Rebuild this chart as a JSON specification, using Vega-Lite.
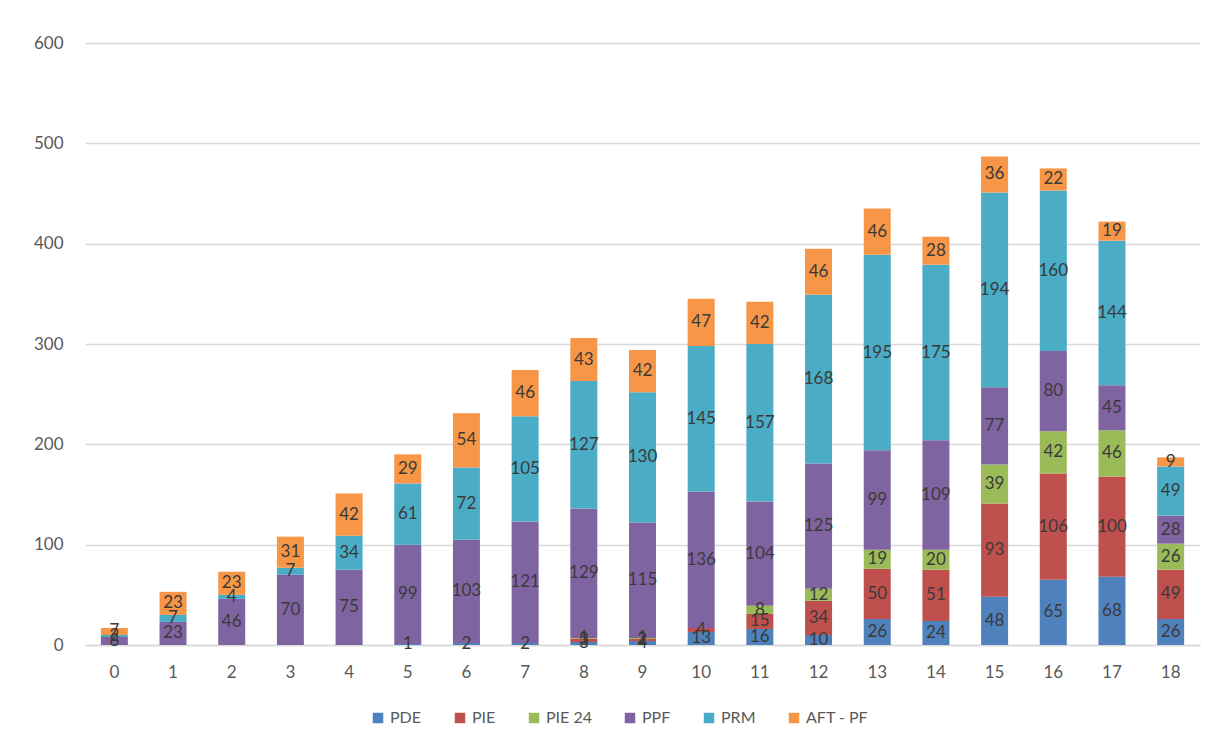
{
  "$schema": "https://vega.github.io/schema/vega-lite/v6.json",
  "autosize": {"type": "none"},
  "width": 1115,
  "height": 602,
  "padding": {"left": 85, "top": 43, "right": 18, "bottom": 108},
  "background": "white",
  "config": {
    "view": {"stroke": null},
    "font": "Lato"
  },
  "data": {
    "values": [
      {"x": 0, "s": "PPF", "k": 4, "v": 8},
      {"x": 0, "s": "PRM", "k": 5, "v": 2},
      {"x": 0, "s": "AFT - PF", "k": 6, "v": 7},
      {"x": 1, "s": "PPF", "k": 4, "v": 23},
      {"x": 1, "s": "PRM", "k": 5, "v": 7},
      {"x": 1, "s": "AFT - PF", "k": 6, "v": 23},
      {"x": 2, "s": "PPF", "k": 4, "v": 46},
      {"x": 2, "s": "PRM", "k": 5, "v": 4},
      {"x": 2, "s": "AFT - PF", "k": 6, "v": 23},
      {"x": 3, "s": "PPF", "k": 4, "v": 70},
      {"x": 3, "s": "PRM", "k": 5, "v": 7},
      {"x": 3, "s": "AFT - PF", "k": 6, "v": 31},
      {"x": 4, "s": "PPF", "k": 4, "v": 75},
      {"x": 4, "s": "PRM", "k": 5, "v": 34},
      {"x": 4, "s": "AFT - PF", "k": 6, "v": 42},
      {"x": 5, "s": "PDE", "k": 1, "v": 1},
      {"x": 5, "s": "PPF", "k": 4, "v": 99},
      {"x": 5, "s": "PRM", "k": 5, "v": 61},
      {"x": 5, "s": "AFT - PF", "k": 6, "v": 29},
      {"x": 6, "s": "PDE", "k": 1, "v": 2},
      {"x": 6, "s": "PPF", "k": 4, "v": 103},
      {"x": 6, "s": "PRM", "k": 5, "v": 72},
      {"x": 6, "s": "AFT - PF", "k": 6, "v": 54},
      {"x": 7, "s": "PDE", "k": 1, "v": 2},
      {"x": 7, "s": "PPF", "k": 4, "v": 121},
      {"x": 7, "s": "PRM", "k": 5, "v": 105},
      {"x": 7, "s": "AFT - PF", "k": 6, "v": 46},
      {"x": 8, "s": "PDE", "k": 1, "v": 3},
      {"x": 8, "s": "PIE", "k": 2, "v": 3},
      {"x": 8, "s": "PIE 24", "k": 3, "v": 1},
      {"x": 8, "s": "PPF", "k": 4, "v": 129},
      {"x": 8, "s": "PRM", "k": 5, "v": 127},
      {"x": 8, "s": "AFT - PF", "k": 6, "v": 43},
      {"x": 9, "s": "PDE", "k": 1, "v": 4},
      {"x": 9, "s": "PIE", "k": 2, "v": 2},
      {"x": 9, "s": "PIE 24", "k": 3, "v": 1},
      {"x": 9, "s": "PPF", "k": 4, "v": 115},
      {"x": 9, "s": "PRM", "k": 5, "v": 130},
      {"x": 9, "s": "AFT - PF", "k": 6, "v": 42},
      {"x": 10, "s": "PDE", "k": 1, "v": 13},
      {"x": 10, "s": "PIE", "k": 2, "v": 4},
      {"x": 10, "s": "PPF", "k": 4, "v": 136},
      {"x": 10, "s": "PRM", "k": 5, "v": 145},
      {"x": 10, "s": "AFT - PF", "k": 6, "v": 47},
      {"x": 11, "s": "PDE", "k": 1, "v": 16},
      {"x": 11, "s": "PIE", "k": 2, "v": 15},
      {"x": 11, "s": "PIE 24", "k": 3, "v": 8},
      {"x": 11, "s": "PPF", "k": 4, "v": 104},
      {"x": 11, "s": "PRM", "k": 5, "v": 157},
      {"x": 11, "s": "AFT - PF", "k": 6, "v": 42},
      {"x": 12, "s": "PDE", "k": 1, "v": 10},
      {"x": 12, "s": "PIE", "k": 2, "v": 34},
      {"x": 12, "s": "PIE 24", "k": 3, "v": 12},
      {"x": 12, "s": "PPF", "k": 4, "v": 125},
      {"x": 12, "s": "PRM", "k": 5, "v": 168},
      {"x": 12, "s": "AFT - PF", "k": 6, "v": 46},
      {"x": 13, "s": "PDE", "k": 1, "v": 26},
      {"x": 13, "s": "PIE", "k": 2, "v": 50},
      {"x": 13, "s": "PIE 24", "k": 3, "v": 19},
      {"x": 13, "s": "PPF", "k": 4, "v": 99},
      {"x": 13, "s": "PRM", "k": 5, "v": 195},
      {"x": 13, "s": "AFT - PF", "k": 6, "v": 46},
      {"x": 14, "s": "PDE", "k": 1, "v": 24},
      {"x": 14, "s": "PIE", "k": 2, "v": 51},
      {"x": 14, "s": "PIE 24", "k": 3, "v": 20},
      {"x": 14, "s": "PPF", "k": 4, "v": 109},
      {"x": 14, "s": "PRM", "k": 5, "v": 175},
      {"x": 14, "s": "AFT - PF", "k": 6, "v": 28},
      {"x": 15, "s": "PDE", "k": 1, "v": 48},
      {"x": 15, "s": "PIE", "k": 2, "v": 93},
      {"x": 15, "s": "PIE 24", "k": 3, "v": 39},
      {"x": 15, "s": "PPF", "k": 4, "v": 77},
      {"x": 15, "s": "PRM", "k": 5, "v": 194},
      {"x": 15, "s": "AFT - PF", "k": 6, "v": 36},
      {"x": 16, "s": "PDE", "k": 1, "v": 65},
      {"x": 16, "s": "PIE", "k": 2, "v": 106},
      {"x": 16, "s": "PIE 24", "k": 3, "v": 42},
      {"x": 16, "s": "PPF", "k": 4, "v": 80},
      {"x": 16, "s": "PRM", "k": 5, "v": 160},
      {"x": 16, "s": "AFT - PF", "k": 6, "v": 22},
      {"x": 17, "s": "PDE", "k": 1, "v": 68},
      {"x": 17, "s": "PIE", "k": 2, "v": 100},
      {"x": 17, "s": "PIE 24", "k": 3, "v": 46},
      {"x": 17, "s": "PPF", "k": 4, "v": 45},
      {"x": 17, "s": "PRM", "k": 5, "v": 144},
      {"x": 17, "s": "AFT - PF", "k": 6, "v": 19},
      {"x": 18, "s": "PDE", "k": 1, "v": 26},
      {"x": 18, "s": "PIE", "k": 2, "v": 49},
      {"x": 18, "s": "PIE 24", "k": 3, "v": 26},
      {"x": 18, "s": "PPF", "k": 4, "v": 28},
      {"x": 18, "s": "PRM", "k": 5, "v": 49},
      {"x": 18, "s": "AFT - PF", "k": 6, "v": 9}
    ]
  },
  "transform": [
    {"stack": "v", "groupby": ["x"], "sort": [{"field": "k", "order": "ascending"}], "as": ["v0", "v1"]}
  ],
  "layer": [
    {
      "mark": {"type": "bar"},
      "encoding": {
        "x": {
          "field": "x", "type": "ordinal",
          "scale": {"paddingInner": 0.54, "paddingOuter": 0.27},
          "axis": {
            "title": null, "labelAngle": 0, "ticks": false,
            "domain": true, "domainColor": "#D9D9D9", "domainWidth": 1.5,
            "labelFontSize": 17, "labelColor": "#595959", "labelPadding": 19
          }
        },
        "y": {
          "field": "v0", "type": "quantitative",
          "scale": {"domain": [0, 600], "nice": false},
          "axis": {
            "title": null, "values": [0, 100, 200, 300, 400, 500, 600],
            "ticks": false, "domain": false,
            "grid": true, "gridColor": "#D9D9D9", "gridWidth": 1.5,
            "labelFontSize": 17, "labelColor": "#595959", "labelPadding": 22
          }
        },
        "y2": {"field": "v1"},
        "color": {
          "field": "s", "type": "nominal",
          "scale": {
            "domain": ["PDE", "PIE", "PIE 24", "PPF", "PRM", "AFT - PF"],
            "range": ["#4F81BD", "#C0504D", "#9BBB59", "#8064A2", "#4BACC6", "#F79646"]
          },
          "legend": {
            "title": null, "orient": "none", "direction": "horizontal",
            "legendX": 285, "legendY": 667,
            "symbolType": "square", "symbolSize": 110, "symbolStrokeWidth": 0,
            "labelFontSize": 16, "labelColor": "#595959", "labelOffset": 4,
            "columnPadding": 30
          }
        }
      }
    },
    {
      "transform": [
        {"fold": ["v0", "v1"], "as": ["edge", "pos"]},
        {"aggregate": [{"op": "mean", "field": "pos", "as": "mid"}], "groupby": ["x", "s", "k", "v"]}
      ],
      "mark": {"type": "text", "fontSize": 17, "color": "#3A3A3A", "baseline": "middle", "align": "center"},
      "encoding": {
        "x": {"field": "x", "type": "ordinal"},
        "y": {"field": "mid", "type": "quantitative"},
        "text": {"field": "v", "type": "quantitative"}
      }
    }
  ]
}
